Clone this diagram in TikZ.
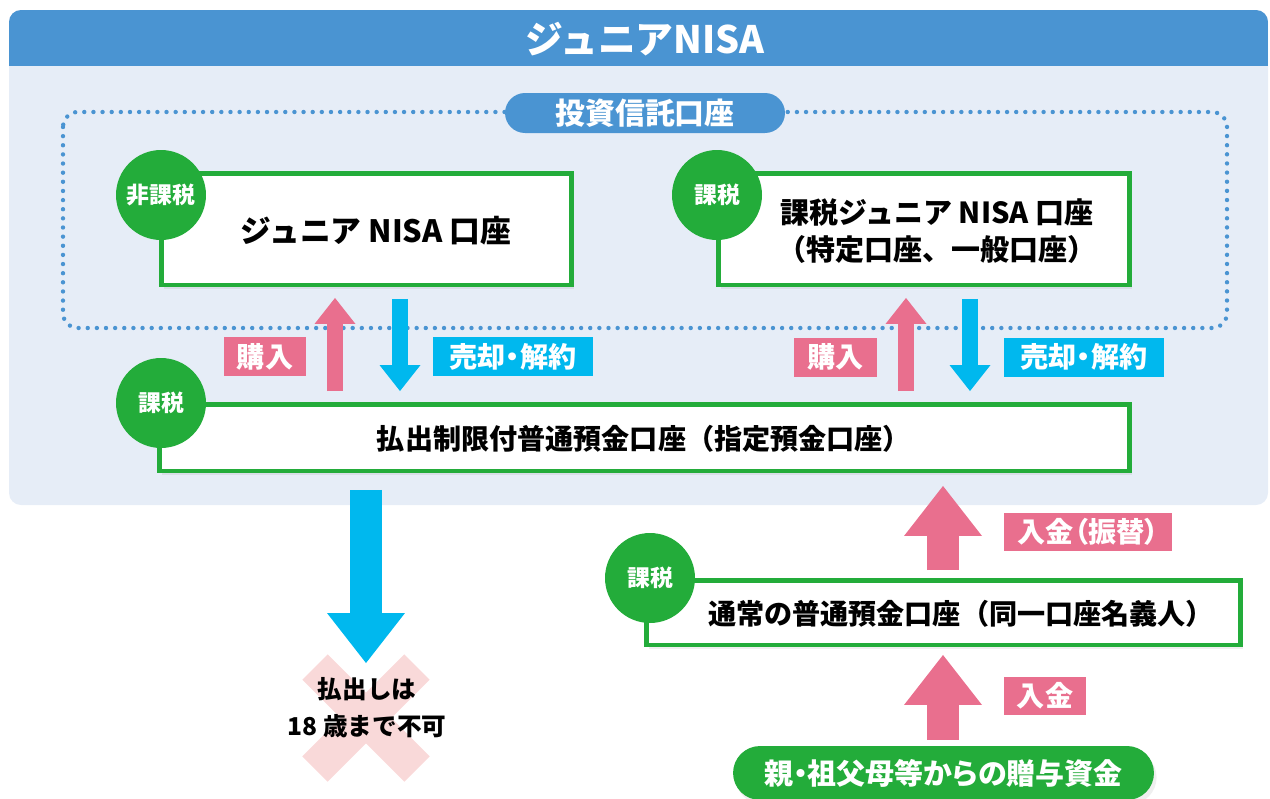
\documentclass[tikz,border=0pt]{standalone}
\usepackage{fontspec}
\setmainfont{Noto Sans CJK JP}
\newfontfamily\jpp{Noto Sans CJK JP}[RawFeature=+palt]
\usetikzlibrary{arrows.meta,shadows,calc}
\definecolor{hblue}{RGB}{74,148,210}
\definecolor{panelc}{RGB}{230,237,247}
\definecolor{jgreen}{RGB}{35,172,58}
\definecolor{jpink}{RGB}{233,111,142}
\definecolor{jcyan}{RGB}{0,184,238}
\definecolor{xpink}{RGB}{249,217,217}
\begin{document}
\begin{tikzpicture}[x=0.02cm,y=-0.02cm,
  acctbox/.style={draw=jgreen, line width=2.55pt, fill=white, inner sep=0pt,
    drop shadow={shadow xshift=1.5pt,shadow yshift=-2.5pt,opacity=0.13}},
  badge/.style={circle, fill=jgreen, inner sep=0pt, minimum size=1.8cm, text=white,
    font=\bfseries\fontsize{13pt}{15pt}\selectfont},
  tag/.style={inner sep=0pt, minimum height=0.78cm, text=white,
    font=\jpp\bfseries\fontsize{16pt}{18pt}\selectfont},
  boxtext/.style={font=\bfseries\fontsize{16pt}{21.5pt}\selectfont, align=center},
  smallup/.style={draw=jpink, line width=0.32cm, -{Triangle[length=0.52cm,width=0.82cm,line width=0pt]}},
  smalldown/.style={draw=jcyan, line width=0.32cm, -{Triangle[length=0.52cm,width=0.82cm,line width=0pt]}},
  bigup/.style={draw=jpink, line width=0.64cm, -{Triangle[length=1.0cm,width=1.56cm,line width=0pt]}},
  bigdown/.style={draw=jcyan, line width=0.64cm, -{Triangle[length=1.0cm,width=1.56cm,line width=0pt]}}
]
\useasboundingbox (0,0) rectangle (1270,798);
% panel and header
\fill[panelc, rounded corners=0.24cm] (9,10) rectangle (1268,505);
\begin{scope}
  \clip[rounded corners=0.24cm] (9,10) rectangle (1268,505);
  \fill[hblue] (9,10) rectangle (1268,66);
\end{scope}
\node[text=white, font=\bfseries\fontsize{21.5pt}{24pt}\selectfont] (title) at (645,39) {ジュニアNISA};
% dotted investment account area
\draw[hblue, line width=2.5pt, line cap=round, dash pattern=on 0pt off 5.2pt, rounded corners=0.3cm]
  (63,112) rectangle (1227,328);
\node[fill=hblue, rounded corners=0.4cm, minimum width=5.6cm, minimum height=0.8cm, inner sep=0pt,
  text=white, font=\bfseries\fontsize{17pt}{20pt}\selectfont] (acct) at (645,113) {投資信託口座};
% boxes
\node[acctbox, minimum width=8.21cm, minimum height=2.23cm] (b1) at (366.5,229) {};
\node[boxtext, font=\bfseries\fontsize{17.5pt}{21.5pt}\selectfont] (b1t) at (376,231) {ジュニア NISA 口座};
\node[acctbox, minimum width=8.23cm, minimum height=2.23cm] (b2) at (924,229) {};
\node[boxtext, font=\bfseries\fontsize{16.5pt}{21.5pt}\selectfont] (b2t) at (937,231) {課税ジュニア NISA 口座\\（特定口座、一般口座）};
\node[acctbox, minimum width=19.41cm, minimum height=1.33cm] (b3) at (644.5,437.5) {};
\node[boxtext] (b3t) at (644,439) {払出制限付普通預金口座（指定預金口座）};
\node[acctbox, minimum width=11.89cm, minimum height=1.29cm] (b4) at (943.5,612.5) {};
\node[boxtext] (b4t) at (961,614) {通常の普通預金口座（同一口座名義人）};
% badges
\node[badge] (c1) at (161,195) {非課税};
\node[badge] (c2) at (717,195) {課税};
\node[badge] (c3) at (161,403) {課税};
\node[badge] (c4) at (650,578) {課税};
% cross
\draw[xpink, line width=0.72cm] (315,667) -- (417,769);
\draw[xpink, line width=0.72cm] (315,769) -- (417,667);
\node[align=center, font=\bfseries\fontsize{14pt}{21pt}\selectfont] (ng) at (367,708) {払出しは\\18 歳まで不可};
% gift pill
\node[fill=jgreen, rounded corners=0.54cm, minimum width=8.42cm, minimum height=1.08cm, inner sep=0pt,
  text=white, font=\jpp\bfseries\fontsize{16.5pt}{19pt}\selectfont,
  drop shadow={shadow xshift=1.5pt,shadow yshift=-2.5pt,opacity=0.13}] (gift) at (943.5,773) {親・祖父母等からの贈与資金};
% arrow x positions
\coordinate (xpL) at (335,0);
\coordinate (xcL) at (400,0);
\coordinate (xpR) at (906,0);
\coordinate (xcR) at (970,0);
\coordinate (xdn) at (366,0);
\coordinate (xin) at (943,0);
% arrows
\draw[smallup] ([yshift=0.22cm]b3.north -| xpL) -- ([yshift=-0.22cm]b1.south -| xpL);
\draw[smalldown] ([yshift=-0.24cm]b1.south -| xcL) -- ([yshift=0.22cm]b3.north -| xcL);
\draw[smallup] ([yshift=0.22cm]b3.north -| xpR) -- ([yshift=-0.22cm]b2.south -| xpR);
\draw[smalldown] ([yshift=-0.24cm]b2.south -| xcR) -- ([yshift=0.22cm]b3.north -| xcR);
\draw[bigdown] ([yshift=-0.34cm]b3.south -| xdn) -- ([yshift=0.9cm]ng.center -| xdn);
\draw[bigup] ([yshift=0.16cm]b4.north -| xin) -- ([yshift=-0.26cm]b3.south -| xin);
\draw[bigup] ([yshift=0.12cm]gift.north -| xin) -- ([yshift=-0.16cm]b4.south -| xin);
% tags
\node[tag, fill=jpink, minimum width=1.64cm] (t1) at (265,356.5) {購入};
\node[tag, fill=jcyan, minimum width=3.2cm] (t2) at (513,356.5) {売却・解約};
\node[tag, fill=jpink, minimum width=1.66cm] (t3) at (835.5,357) {購入};
\node[tag, fill=jcyan, minimum width=3.2cm] (t4) at (1084,357) {売却・解約};
\node[tag, fill=jpink, minimum width=3.36cm, minimum height=0.76cm] (t5) at (1088,532) {入金（振替）};
\node[tag, fill=jpink, minimum width=1.64cm, minimum height=0.76cm] (t6) at (1045,696) {入金};
\end{tikzpicture}
\end{document}
